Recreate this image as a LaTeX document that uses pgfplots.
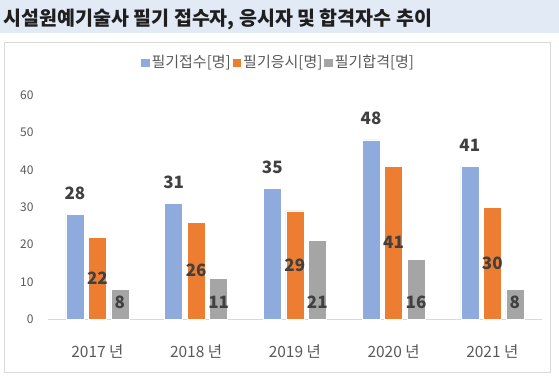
\documentclass[border=0pt]{standalone}
\usepackage{fontspec}
\setmainfont{Noto Sans CJK KR}
\usepackage{pgfplots}
\pgfplotsset{compat=1.18}
\definecolor{cblue}{HTML}{8FAADC}
\definecolor{corange}{HTML}{ED7D31}
\definecolor{cgray}{HTML}{A5A5A5}
\definecolor{titlebg}{HTML}{E2EAF6}
\definecolor{framegray}{HTML}{D9D9D9}
\definecolor{ticktext}{HTML}{595959}
\definecolor{lbltext}{HTML}{404040}
\begin{document}
\begin{tikzpicture}[x=1pt,y=1pt]
\path[use as bounding box] (0,0) rectangle (559,378);
\fill[titlebg] (0,344.7) rectangle (559,378);
\node[anchor=west, font=\fontsize{19.5}{21}\selectfont\bfseries, text=black!88, inner sep=0] at (3.5,359) {시설원예기술사 필기 접수자, 응시자 및 합격자수 추이};
\draw[framegray, line width=0.9pt] (4,5.3) rectangle (550.3,335.7);
\begin{axis}[
  at={(48pt,58.7pt)}, anchor=south west,
  scale only axis, width=493.7pt, height=224.3pt,
  xmin=-0.5, xmax=4.5, ymin=0, ymax=60,
  ybar=4.5pt, bar width=18pt,
  xtick={0,1,2,3,4},
  xticklabels={2017 년,2018 년,2019 년,2020 년,2021 년},
  ytick={0,10,20,30,40,50,60},
  axis lines*=left,
  x axis line style={draw=framegray, line width=0.9pt, -},
  y axis line style={draw=none},
  major tick length=0pt,
  /pgf/number format/assume math mode=true,
  yticklabel style={font=\fontsize{12}{14}\selectfont, text=ticktext, anchor=east, xshift=-11pt},
  xticklabel style={font=\fontsize{15.5}{17}\selectfont, text=ticktext, anchor=center, yshift=-32pt},
  legend columns=3,
  legend style={draw=none, fill=none, at={(0.467,1.147)}, anchor=center,
    font=\fontsize{15}{17}\selectfont, text=ticktext,
    /tikz/every even column/.append style={column sep=0pt},
    nodes={inner sep=2pt}},
  legend image code/.code={\path[#1, draw=none] (0pt,-5pt) rectangle (8.5pt,3.5pt);},
]
\addplot[fill=cblue, draw=white, line width=0.6pt,
  nodes near coords,
  every node near coord/.append style={font=\fontsize{17}{19}\selectfont\bfseries, text=lbltext, anchor=base, yshift=15pt}]
  coordinates {(0,28) (1,31) (2,35) (3,48) (4,41)};
\addlegendentry{필기접수[명]}
\addplot[fill=corange, draw=white, line width=0.6pt,
  visualization depends on={rawy \as \rawy},
  nodes near coords,
  every node near coord/.append style={font=\fontsize{17}{19}\selectfont\bfseries, text=lbltext, anchor=center, yshift={-\rawy*1.8692pt}}]
  coordinates {(0,22) (1,26) (2,29) (3,41) (4,30)};
\addlegendentry{필기응시[명]}
\addplot[fill=cgray, draw=white, line width=0.6pt,
  visualization depends on={rawy \as \rawy},
  nodes near coords,
  every node near coord/.append style={font=\fontsize{17}{19}\selectfont\bfseries, text=lbltext, anchor=base, yshift={-\rawy*3.7383pt+11pt}}]
  coordinates {(0,8) (1,11) (2,21) (3,16) (4,8)};
\addlegendentry{필기합격[명]}
\end{axis}
\end{tikzpicture}
\end{document}
